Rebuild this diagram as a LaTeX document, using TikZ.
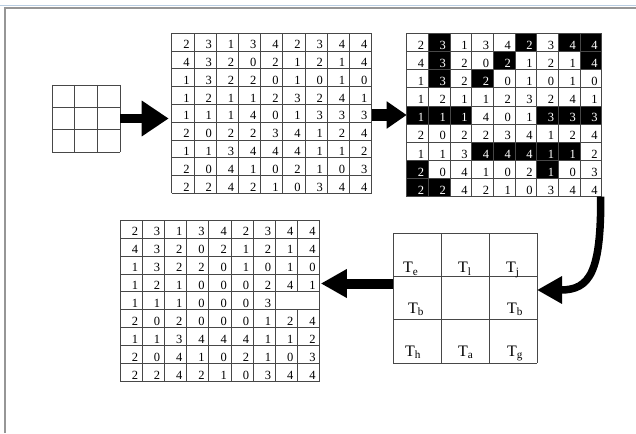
\documentclass[tikz,border=0pt]{standalone}
\usepackage{fontspec}
\setmainfont{Liberation Serif}
\usetikzlibrary{arrows.meta}
\definecolor{frameblue}{RGB}{185,205,225}
\definecolor{framegray}{RGB}{150,150,150}
\tikzset{
  gl/.style={draw=black!72, line width=0.75pt},
  gridbox/.style={draw=none, inner sep=0pt, outer sep=0pt, rectangle},
  num/.style={anchor=base east, inner sep=0pt, font=\fontsize{12.5}{12.5}\selectfont},
  tlab/.style={anchor=base west, inner sep=0pt, font=\fontsize{16}{16}\selectfont},
  fatarrow/.style={line width=#1},
}
% #1 name, #2 x0, #3 y0, #4 cell w, #5 cell h, #6 data (0-4 plain, 10-14 black cell, -1 empty), #7 skipped vertical segment row-col
\newcommand\numgrid[7]{%
  \node[gridbox, anchor=north west, minimum width={9*#4pt}, minimum height={9*#5pt}] (#1) at (#2,#3) {};
  \def\skipkey{#7}%
  \foreach \row [count=\ri from 0] in {#6} {
    \foreach \v [count=\ci from 0] in \row {
      \ifnum\v>9
        \fill[black] (#2+\ci*#4, #3+\ri*#5) rectangle ++(#4,#5);
        \node[num, text=white] (#1-\ri-\ci) at (#2+\ci*#4+#4-4, #3+\ri*#5+#5-2.3) {\the\numexpr\v-10\relax};
      \else
        \ifnum\v<0
          \node[num] (#1-\ri-\ci) at (#2+\ci*#4+#4-4, #3+\ri*#5+#5-2.3) {};
        \else
          \node[num] (#1-\ri-\ci) at (#2+\ci*#4+#4-4, #3+\ri*#5+#5-2.3) {\v};
        \fi
      \fi
    }
  }
  \foreach \i in {0,...,9} {
    \draw[gl] (#2,#3+\i*#5) -- ++(9*#4,0);
    \foreach \ri in {0,...,8} {
      \edef\curkey{\ri-\i}%
      \ifx\curkey\skipkey\else
        \draw[gl] (#2+\i*#4,#3+\ri*#5) -- ++(0,#5);
      \fi
    }
  }
}
\newcommand\smallgrid[5]{%
  \node[gridbox, anchor=north west, minimum width={3*#4pt}, minimum height={3*#5pt}] (#1) at (#2,#3) {};
  \foreach \i in {0,...,3} {
    \draw[gl] (#2+\i*#4,#3) -- ++(0,3*#5);
    \draw[gl] (#2,#3+\i*#5) -- ++(3*#4,0);
  }
}
\begin{document}
\begin{tikzpicture}[x=1pt,y=-1pt]
\useasboundingbox (0,0) rectangle (636,433);
% page frame
\draw[frameblue, line width=0.8pt] (0,5) -- (636,5);
\draw[framegray, line width=1.4pt] (5,433) -- (5,8) -- (636,8);

% small 3x3 grid
\smallgrid{g1}{52}{85}{22.67}{22.33}

% input matrix
\numgrid{g2}{171.7}{33.3}{22.2}{17.78}{
 {2,3,1,3,4,2,3,4,4},
 {4,3,2,0,2,1,2,1,4},
 {1,3,2,2,0,1,0,1,0},
 {1,2,1,1,2,3,2,4,1},
 {1,1,1,4,0,1,3,3,3},
 {2,0,2,2,3,4,1,2,4},
 {1,1,3,4,4,4,1,1,2},
 {2,0,4,1,0,2,1,0,3},
 {2,2,4,2,1,0,3,4,4}}{none}

% highlighted matrix
\numgrid{g3}{406.7}{33.3}{21.67}{18.15}{
 {2,13,1,3,4,12,3,14,14},
 {4,13,2,0,12,1,2,1,14},
 {1,13,2,12,0,1,0,1,0},
 {1,2,1,1,2,3,2,4,1},
 {11,11,11,4,0,1,13,13,13},
 {2,0,2,2,3,4,1,2,4},
 {1,1,3,14,14,14,11,11,2},
 {12,0,4,1,0,2,11,0,3},
 {12,12,4,2,1,0,3,4,4}}{none}

% result matrix
\numgrid{g5}{120}{220}{22.2}{17.96}{
 {2,3,1,3,4,2,3,4,4},
 {4,3,2,0,2,1,2,1,4},
 {1,3,2,2,0,1,0,1,0},
 {1,2,1,0,0,0,2,4,1},
 {1,1,1,0,0,0,3,-1,-1},
 {2,0,2,0,0,0,1,2,4},
 {1,1,3,4,4,4,1,1,2},
 {2,0,4,1,0,2,1,0,3},
 {2,2,4,2,1,0,3,4,4}}{4-8}

% template grid
\smallgrid{g4}{393}{233}{48}{43.33}
\node[tlab] (te) at (403,272.5) {T\textsubscript{e}};
\node[tlab] (tl) at (458,272.5) {T\textsubscript{l}};
\node[tlab] (tj) at (506,272.5) {T\textsubscript{j}};
\node[tlab] (tb1) at (408,313) {T\textsubscript{b}};
\node[tlab] (tb2) at (507,313) {T\textsubscript{b}};
\node[tlab] (th) at (405,356) {T\textsubscript{h}};
\node[tlab] (ta) at (458,356) {T\textsubscript{a}};
\node[tlab] (tg) at (507,356) {T\textsubscript{g}};

% arrows
\coordinate (a2) at (0,115);
\coordinate (a3) at (0,283.5);
\draw[fatarrow=9pt, -{Triangle[length=27pt,width=34pt]}, shorten >=3pt] (g1.east) -- (g2.west |- g1.east);
\draw[fatarrow=12pt, -{Triangle[length=20pt,width=26pt]}] (g2.east |- a2) -- (g3.west |- a2);
\draw[fatarrow=7.5pt, -{Triangle[length=25pt,width=26pt]}] ([xshift=-1pt]g3.south east) .. controls (601,272) and (590,290) .. ([yshift=8pt]g4.east);
\draw[fatarrow=10pt, -{Triangle[length=26pt,width=27pt]}, shorten >=1pt] (g4.west |- a3) -- (g5.east |- a3);
\end{tikzpicture}
\end{document}
